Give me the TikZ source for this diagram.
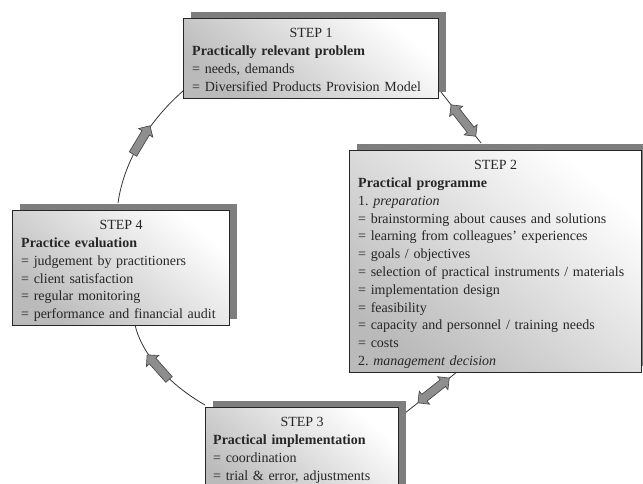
\documentclass[tikz,border=0pt]{standalone}
\usepackage{fontspec}
\setmainfont{Liberation Serif}
\usetikzlibrary{shapes.arrows,shadows}
\definecolor{ink}{HTML}{262626}
\definecolor{shadowgray}{HTML}{7E7E7E}
\definecolor{arrowfill}{HTML}{8E8E8E}
\frenchspacing
\tikzset{
  stepbox/.style={draw=ink, line width=1.2pt, inner sep=0pt, anchor=north west,
    bottom color=black!27, top color=white, shading angle=-40,
    drop shadow={fill=shadowgray, opacity=1, shadow xshift=7pt, shadow yshift=7pt}},
  titletext/.style={anchor=base, inner sep=0pt, text=ink, font=\fontsize{14}{17.8}\selectfont},
  steptext/.style={anchor=north west, inner sep=0pt, align=left, text=ink,
    font=\fontsize{14}{17.8}\selectfont},
  link/.style={draw=black!80, line width=0.8pt},
  onearrow/.style={single arrow, draw=black!75, fill=arrowfill, line width=0.6pt,
    minimum height=33pt, inner sep=4pt, single arrow head extend=4pt,
    sloped, allow upside down},
  twoarrow/.style={double arrow, draw=black!75, fill=arrowfill, line width=0.6pt,
    minimum height=40pt, inner sep=4pt, double arrow head extend=4pt,
    sloped, allow upside down}
}
\begin{document}
\begin{tikzpicture}[x=1pt,y=-1pt]
\useasboundingbox (0,0) rectangle (643,484);
% connector end points
\coordinate (a4) at (118,203);
\coordinate (a1) at (183,91);
\coordinate (b1) at (441,92);
\coordinate (b2) at (481,143);
\coordinate (c2) at (457,372);
\coordinate (c3) at (405,413);
\coordinate (d3) at (205,405);
\coordinate (d4) at (135,325);
% connectors
\draw[link] (a4) .. controls (124,160) and (150,120) .. node[onearrow, pos=0.5] (ar1) {} (a1);
\draw[link] (b1) -- node[twoarrow, pos=0.56] (ar2) {} (b2);
\draw[link] (c2) -- node[twoarrow, pos=0.45] (ar3) {} (c3);
\draw[link] (d3) .. controls (170,385) and (142,355) .. node[onearrow, pos=0.5] (ar4) {} (d4);
% boxes
\node[stepbox, minimum width=255pt, minimum height=80pt] (s1) at (183,18) {};
\node[stepbox, minimum width=292pt, minimum height=222pt] (s2) at (349,150) {};
\node[stepbox, minimum width=193pt, minimum height=95pt] (s3) at (205,407) {};
\node[stepbox, minimum width=217pt, minimum height=115pt] (s4) at (12,210) {};
% titles
\node[titletext] (h1) at ([yshift=-19.6pt]s1.north) {STEP 1};
\node[titletext] (h2) at ([yshift=-19.6pt]s2.north) {STEP 2};
\node[titletext] (h3) at ([yshift=-19.6pt]s3.north) {STEP 3};
\node[titletext] (h4) at ([yshift=-19.6pt]s4.north) {STEP 4};
% texts
\node[steptext, text width=245pt] (t1) at ([xshift=9pt,yshift=-27.6pt]s1.north west)
  {\textbf{Practically relevant problem}\\
   = needs, demands\\
   = Diversified Products Provision Model};
\node[steptext, text width=280pt] (t2) at ([xshift=9pt,yshift=-27.6pt]s2.north west)
  {\textbf{Practical programme}\\
   1. \textit{preparation}\\
   = brainstorming about causes and solutions\\
   = learning from colleagues' experiences\\
   = goals / objectives\\
   = selection of practical instruments / materials\\
   = implementation design\\
   = feasibility\\
   = capacity and personnel / training needs\\
   = costs\\
   2. \textit{management decision}};
\node[steptext, text width=183pt] (t3) at ([xshift=8pt,yshift=-27.6pt]s3.north west)
  {\textbf{Practical implementation}\\
   = coordination\\
   = trial \& error, adjustments};
\node[steptext, text width=206pt] (t4) at ([xshift=9pt,yshift=-27.6pt]s4.north west)
  {\textbf{Practice evaluation}\\
   = judgement by practitioners\\
   = client satisfaction\\
   = regular monitoring\\
   = performance and financial audit};
\end{tikzpicture}
\end{document}
